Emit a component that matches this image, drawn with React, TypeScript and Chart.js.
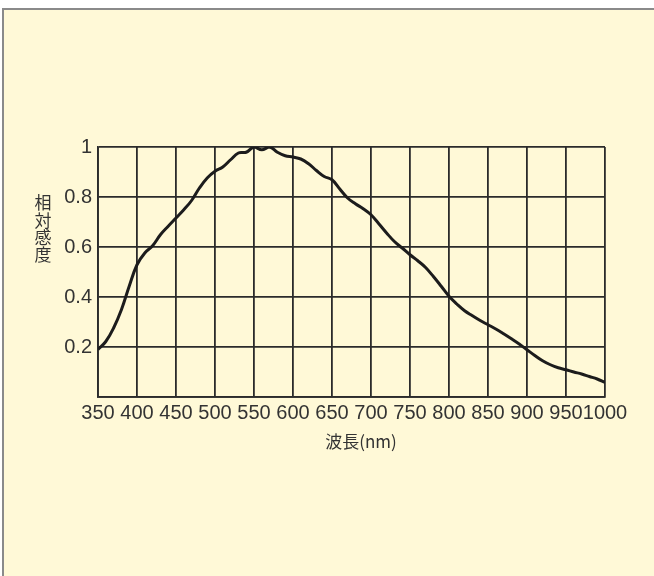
import React, { useEffect, useRef } from "react";
import { Chart, registerables } from "chart.js";

Chart.register(...registerables);

const wavelengths = [
  350, 360, 370, 380, 390, 400, 410, 420, 430, 440, 450, 460, 470, 480, 490,
  500, 510, 520, 530, 540, 550, 560, 570, 580, 590, 600, 610, 620, 630, 640,
  650, 660, 670, 680, 690, 700, 710, 720, 730, 740, 750, 760, 770, 780, 790,
  800, 810, 820, 830, 840, 850, 860, 870, 880, 890, 900, 910, 920, 930, 940,
  950, 960, 970, 980, 990, 1000,
];

const sensitivity = [
  0.19, 0.222, 0.276, 0.349, 0.443, 0.529, 0.576, 0.605, 0.649, 0.683, 0.716,
  0.749, 0.786, 0.836, 0.876, 0.903, 0.92, 0.949, 0.976, 0.979, 1.0, 0.989,
  1.0, 0.979, 0.965, 0.96, 0.952, 0.933, 0.906, 0.882, 0.869, 0.832, 0.796,
  0.773, 0.753, 0.729, 0.693, 0.656, 0.622, 0.596, 0.569, 0.545, 0.518, 0.482,
  0.443, 0.403, 0.372, 0.345, 0.325, 0.306, 0.289, 0.272, 0.253, 0.233, 0.212,
  0.189, 0.166, 0.145, 0.129, 0.117, 0.109, 0.1, 0.092, 0.082, 0.072, 0.058,
];

const xTitle = "波長(nm)";
const yTitleChars = ["相", "対", "感", "度"];

const TEXT = "#333333";
const GRID = "#2b2b2b";

export default function App() {
  const ref = useRef<HTMLCanvasElement | null>(null);

  useEffect(() => {
    if (!ref.current) return;
    const titlePlugin = {
      id: "titles",
      afterDraw(chart: any) {
        const ctx = chart.ctx;
        ctx.save();
        ctx.fillStyle = TEXT;
        ctx.font = '17px "Noto Sans CJK JP", "Noto Sans", sans-serif';
        ctx.textAlign = "center";
        ctx.textBaseline = "middle";
        ctx.fillText(xTitle, 361, 442);
        yTitleChars.forEach((c, i) => {
          ctx.fillText(c, 43, 203 + i * 17.3);
        });
        ctx.restore();
      },
    };
    const tickFont = { family: '"Liberation Sans", Arial, sans-serif', size: 20 };
    const chart = new Chart(ref.current, {
      type: "line",
      data: {
        datasets: [
          {
            data: wavelengths.map((x, i) => ({ x, y: sensitivity[i] })),
            borderColor: "#1c1c1c",
            borderWidth: 3,
            pointRadius: 0,
            tension: 0.4,
            fill: false,
          },
        ],
      },
      options: {
        animation: false,
        responsive: false,
        devicePixelRatio: 1,
        layout: { padding: { left: 0, top: 147, right: 49, bottom: 0 } },
        plugins: { legend: { display: false }, tooltip: { enabled: false } },
        scales: {
          x: {
            type: "linear",
            min: 350,
            max: 1000,
            afterFit(scale: any) {
              scale.height = 179;
            },
            ticks: {
              stepSize: 50,
              autoSkip: false,
              maxRotation: 0,
              padding: 4,
              color: TEXT,
              font: tickFont,
              callback: (v: any) => String(v),
            },
            grid: { color: GRID, lineWidth: 1.8, drawTicks: false },
            border: { color: GRID, width: 1.8 },
          },
          y: {
            type: "linear",
            min: 0,
            max: 1,
            afterFit(scale: any) {
              scale.width = 98;
            },
            ticks: {
              stepSize: 0.2,
              padding: 6,
              color: TEXT,
              font: tickFont,
              callback: (v: any) => (Math.abs(v) < 1e-9 ? "" : String(Number(Number(v).toFixed(1)))),
            },
            grid: { color: GRID, lineWidth: 1.8, drawTicks: false },
            border: { color: GRID, width: 1.8 },
          },
        },
      },
      plugins: [titlePlugin],
    });
    return () => chart.destroy();
  }, []);

  return (
    <div style={{ position: "fixed", left: 0, top: 0, width: 654, height: 576, background: "#ffffff" }}>
      <div
        style={{
          position: "absolute",
          left: 2,
          top: 8,
          right: 0,
          bottom: 0,
          background: "#FFF9D7",
          borderTop: "2px solid #8a8a8a",
          borderLeft: "2px solid #8a8a8a",
        }}
      />
      <canvas
        ref={ref}
        width={654}
        height={576}
        style={{ position: "absolute", left: 0, top: 0, width: 654, height: 576 }}
      />
    </div>
  );
}
